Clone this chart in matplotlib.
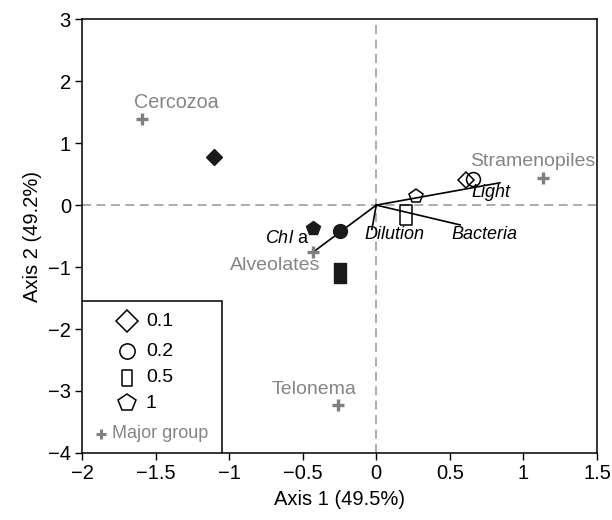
import matplotlib
matplotlib.use("Agg")
import matplotlib.pyplot as plt
from matplotlib.patches import Rectangle

plt.rcParams['font.family'] = ['Liberation Sans', 'DejaVu Sans']
plt.rcParams['font.size'] = 12
plt.rcParams['mathtext.fontset'] = 'custom'
plt.rcParams['mathtext.it'] = 'Liberation Sans:italic'
plt.rcParams['mathtext.rm'] = 'Liberation Sans'

# sample scores: filled = one station, open = the other; shape = size fraction
fractions = ['0.1', '0.2', '0.5', '1']
filled_x = [-1.10, -0.25, -0.25, -0.43]
filled_y = [0.78, -0.42, -1.10, -0.37]
open_x = [0.61, 0.66, 0.20, 0.27]
open_y = [0.40, 0.42, -0.16, 0.15]

# major group centroids
groups = ['Cercozoa', 'Stramenopiles', 'Alveolates', 'Telonema']
group_x = [-1.59, 1.13, -0.43, -0.26]
group_y = [1.39, 0.44, -0.75, -3.23]

# environmental vectors
env_names = ['Light', 'Bacteria', 'Dilution', 'Chl a']
env_x = [0.84, 0.57, -0.03, -0.43]
env_y = [0.36, -0.32, -0.39, -0.76]

rect = [(-0.6, -1), (0.6, -1), (0.6, 1), (-0.6, 1), (-0.6, -1)]
shapes = ['D', 'o', rect, 'p']
sizes = [8, 10, 14, 10]
leg_sizes = [11, 11, 11.5, 13]

fig = plt.figure(figsize=(6.12, 5.2), dpi=100)
ax = fig.add_axes([0.134, 0.129, 0.8415, 0.834])

ax.axhline(0, color='#a6a6a6', ls=(0, (5, 3)), lw=1.3, zorder=1)
ax.axvline(0, color='#a6a6a6', ls=(0, (5, 3)), lw=1.3, zorder=1)

for ex, ey in zip(env_x, env_y):
    ax.plot([0, ex], [0, ey], color='black', lw=1.2, zorder=2)

for i in range(4):
    ax.plot(filled_x[i], filled_y[i], marker=shapes[i], ms=sizes[i], color='#1a1a1a',
            mec='#1a1a1a', mew=1, ls='none', zorder=4)
    ax.plot(open_x[i], open_y[i], marker=shapes[i], ms=sizes[i], mfc='none',
            mec='black', mew=1.1, ls='none', zorder=4)

ax.plot(group_x, group_y, marker='+', ms=8, mew=2.4, color='#808080', ls='none', zorder=3)

gray = '#858585'
ax.text(-1.65, 1.65, 'Cercozoa', color=gray, fontsize=14.2, va='center')
ax.text(0.64, 0.71, 'Stramenopiles', color=gray, fontsize=14, va='center')
ax.text(-0.38, -0.98, 'Alveolates', color=gray, fontsize=14, va='center', ha='right')
ax.text(-0.71, -2.97, 'Telonema', color=gray, fontsize=14, va='center')

ax.text(0.78, 0.2, 'Light', style='italic', fontsize=13, ha='center', va='center')
ax.text(0.51, -0.47, 'Bacteria', style='italic', fontsize=13, va='center')
ax.text(-0.08, -0.47, 'Dilution', style='italic', fontsize=13, va='center')
ax.text(-0.46, -0.54, r'$\mathit{Chl}$ a', fontsize=13, ha='right', va='center')

ax.set_xlim(-2, 1.5)
ax.set_ylim(-4, 3)
ax.set_xticks([-2, -1.5, -1, -0.5, 0, 0.5, 1, 1.5])
ax.set_xticklabels(['\u22122', '\u22121.5', '\u22121', '\u22120.5', '0', '0.5', '1', '1.5'])
ax.set_yticks(range(-4, 4))
ax.set_yticklabels(['\u22124', '\u22123', '\u22122', '\u22121', '0', '1', '2', '3'])
ax.tick_params(direction='out', length=5, width=1, labelsize=14.5, pad=3)
for s in ax.spines.values():
    s.set_linewidth(1.1)
ax.set_xlabel('Axis 1 (49.5%)', fontsize=14.5, labelpad=5)
ax.set_ylabel('Axis 2 (49.2%)', fontsize=14.5, labelpad=4)

# legend box drawn by hand in axes coordinates
ax.add_patch(Rectangle((0, 0), 0.272, 0.35, transform=ax.transAxes, fill=True,
                       facecolor='white', edgecolor='black', lw=1.1, zorder=5))
leg_y = [0.304, 0.235, 0.173, 0.115]
for i in range(4):
    ax.plot(0.087, leg_y[i], marker=shapes[i], ms=leg_sizes[i], mfc='none', mec='black',
            mew=1.1, transform=ax.transAxes, zorder=6, clip_on=False)
    ax.text(0.124, leg_y[i], fractions[i], transform=ax.transAxes, fontsize=14,
            va='center', zorder=6)
ax.plot(0.037, 0.044, marker='+', ms=7, mew=2.2, color='#808080',
        transform=ax.transAxes, zorder=6)
ax.text(0.058, 0.044, 'Major group', color=gray, fontsize=13, transform=ax.transAxes,
        va='center', zorder=6)

fig.savefig('out.png', dpi=100)
